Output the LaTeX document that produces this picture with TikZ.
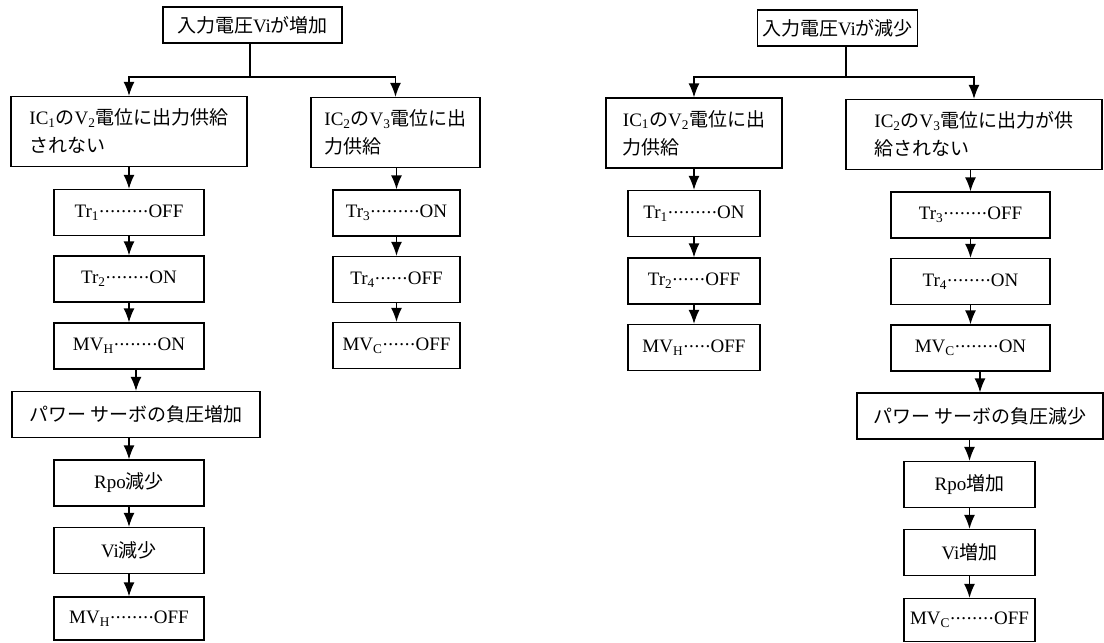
\documentclass[tikz,border=0pt]{standalone}
\usepackage{fontspec}
\setmainfont{Liberation Serif}
\newfontfamily\jpfont{Noto Sans CJK JP}
\newcommand{\jp}[1]{{\jpfont #1}}
% row of n raised dots
\newcommand{\dotrow}[1]{\hbox to \dimexpr#1pt*11/2\relax{\leaders\hbox to 5.5pt{\hss\raise5pt\hbox{.}\hss}\hfill}}
\usetikzlibrary{arrows.meta}

\begin{document}
\begin{tikzpicture}[
                x=1pt, y=-1pt,
                every node/.style={rectangle, draw, line width=1.3pt, inner sep=0pt, align=center,
                  minimum height=46pt, font=\fontsize{19}{28}\selectfont},
                box/.style={minimum width=#1},
                cond/.style={minimum width=#1, minimum height=70pt, align=left},
                arr/.style={line width=1.3pt, -{Latex[length=14pt, width=11pt]}}
            ]
                \useasboundingbox (0,0) rectangle (1104,643);
                % Vi rising
                \node[box=179pt, minimum height=36pt] (in1) at (252.5,25) {\jp{入力電圧}Vi\jp{が増加}};
                \node[cond=236pt] (ic1L) at (129,131.5) {IC\textsubscript{1}\jp{の}V\textsubscript{2}\jp{電位に出力供給}\\\jp{されない}};
                \node[cond=169pt] (ic2L) at (395.5,132.5) {IC\textsubscript{2}\jp{の}V\textsubscript{3}\jp{電位に出}\\\jp{力供給}};
                \node[box=150pt] (tr1L) at (129,212.5) {Tr\textsubscript{1}\dotrow{9}OFF};
                \node[box=150pt] (tr2L) at (129,279) {Tr\textsubscript{2}\dotrow{8}ON};
                \node[box=150pt] (mvhL) at (129,346) {MV\textsubscript{H}\dotrow{8}ON};
                \node[box=248pt] (powL) at (136,414.5) {\jp{パワー サーボの負圧増加}};
                \node[box=150pt] (rpoL) at (129,483) {Rpo\jp{減少}};
                \node[box=150pt] (viL) at (129,550.5) {Vi\jp{減少}};
                \node[box=150pt, minimum height=43pt] (offL) at (129,618.5) {MV\textsubscript{H}\dotrow{8}OFF};
                \node[box=127pt] (tr3L) at (396.5,213) {Tr\textsubscript{3}\dotrow{9}ON};
                \node[box=127pt] (tr4L) at (396.5,279.5) {Tr\textsubscript{4}\dotrow{6}OFF};
                \node[box=127pt] (mvcL) at (396.5,345.5) {MV\textsubscript{C}\dotrow{6}OFF};
                % Vi falling
                \node[box=160pt, minimum height=36pt] (in2) at (837.5,28) {\jp{入力電圧}Vi\jp{が減少}};
                \node[cond=176pt] (ic1R) at (694,133) {IC\textsubscript{1}\jp{の}V\textsubscript{2}\jp{電位に出}\\\jp{力供給}};
                \node[cond=256pt] (ic2R) at (974,134.5) {IC\textsubscript{2}\jp{の}V\textsubscript{3}\jp{電位に出力が供}\\\jp{給されない}};
                \node[box=132pt] (tr1R) at (694,213.5) {Tr\textsubscript{1}\dotrow{9}ON};
                \node[box=132pt] (tr2R) at (694,281) {Tr\textsubscript{2}\dotrow{6}OFF};
                \node[box=132pt] (mvhR) at (694,347.5) {MV\textsubscript{H}\dotrow{5}OFF};
                \node[box=159pt] (tr3R) at (970.5,215) {Tr\textsubscript{3}\dotrow{8}OFF};
                \node[box=159pt] (tr4R) at (970.5,281.5) {Tr\textsubscript{4}\dotrow{8}ON};
                \node[box=159pt] (mvcR) at (970.5,348) {MV\textsubscript{C}\dotrow{8}ON};
                \node[box=246pt] (powR) at (980,416) {\jp{パワー サーボの負圧減少}};
                \node[box=131pt] (rpoR) at (969.5,484.5) {Rpo\jp{増加}};
                \node[box=131pt] (viR) at (969.5,552.5) {Vi\jp{増加}};
                \node[box=131pt, minimum height=43pt] (offR) at (969.5,620) {MV\textsubscript{C}\dotrow{8}OFF};

                \coordinate (jL) at (250,77);
                \coordinate (jR) at (846,77);
                \draw[line width=1.3pt] (in1.south -| jL) -- (jL);
                \draw[line width=1.3pt] (in2.south -| jR) -- (jR);
                \draw[arr] (jL) -| (ic1L);
                \draw[arr] (jL) -| (ic2L);
                \draw[arr] (jR) -| (ic1R);
                \draw[arr] (jR) -| (ic2R);
                \foreach \a/\b in {ic1L/tr1L, tr1L/tr2L, tr2L/mvhL, mvhL/powL, powL/rpoL, rpoL/viL, viL/offL,
                                   ic2L/tr3L, tr3L/tr4L, tr4L/mvcL,
                                   ic1R/tr1R, tr1R/tr2R, tr2R/mvhR,
                                   ic2R/tr3R, tr3R/tr4R, tr4R/mvcR, mvcR/powR, powR/rpoR, rpoR/viR, viR/offR}
                    \draw[arr] (\b.north |- \a.south) -- (\b.north);
            \end{tikzpicture}
\end{document}
